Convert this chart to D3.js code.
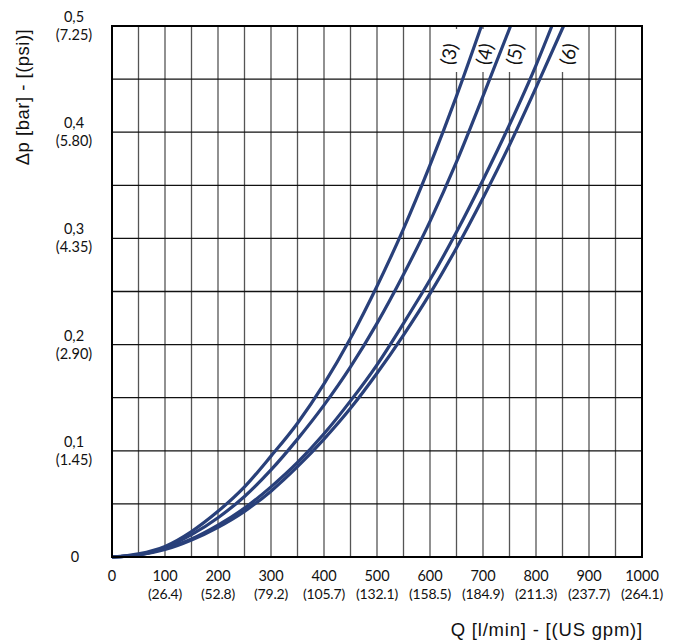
<!DOCTYPE html>
<html><head><meta charset="utf-8">
<script src="https://cdn.jsdelivr.net/npm/d3@7"></script>
<style>body{margin:0;background:#fff}svg{display:block}</style>
</head><body>
<svg id="c" width="675" height="644"></svg>
<script>
const xTicks = [0,100,200,300,400,500,600,700,800,900,1000];
const xTicksUS = ["","(26.4)","(52.8)","(79.2)","(105.7)","(132.1)","(158.5)","(184.9)","(211.3)","(237.7)","(264.1)"];
const yTicks = [0,0.1,0.2,0.3,0.4,0.5];
const yTicksBar = ["0","0,1","0,2","0,3","0,4","0,5"];
const yTicksPsi = ["","(1.45)","(2.90)","(4.35)","(5.80)","(7.25)"];
const curveNames = ["(3)","(4)","(5)","(6)"];
const curve3 = [[0,0],[50,0.003],[100,0.01],[150,0.024],[200,0.043],[250,0.066],[300,0.095],[350,0.126],[400,0.163],[450,0.206],[500,0.255],[550,0.309],[600,0.369],[650,0.434],[697,0.5]];
const curve4 = [[0,0],[50,0.002],[100,0.009],[150,0.021],[200,0.037],[250,0.057],[300,0.082],[350,0.111],[400,0.143],[450,0.179],[500,0.22],[550,0.266],[600,0.316],[650,0.372],[700,0.434],[752,0.5]];
const curve5 = [[0,0],[50,0.002],[100,0.008],[150,0.017],[200,0.03],[250,0.046],[300,0.066],[350,0.089],[400,0.116],[450,0.147],[500,0.181],[550,0.22],[600,0.261],[650,0.306],[700,0.355],[750,0.407],[800,0.463],[830,0.5]];
const curve6 = [[0,0],[50,0.002],[100,0.007],[150,0.016],[200,0.028],[250,0.043],[300,0.062],[350,0.085],[400,0.111],[450,0.14],[500,0.173],[550,0.209],[600,0.248],[650,0.291],[700,0.338],[750,0.388],[800,0.442],[852,0.5]];
const curves = [curve3, curve4, curve5, curve6];
const labelQ = [636, 703, 760, 861];

const svg = d3.select("#c");
const L=112, R=642, T=26, B=557;
const x = d3.scaleLinear().domain([0,1000]).range([L,R]);
const y = d3.scaleLinear().domain([0,0.5]).range([B,T]);

// grid
const g = svg.append("g");
g.selectAll("line.v").data(d3.range(50,1000,50)).join("line")
  .attr("x1",d=>x(d)).attr("x2",d=>x(d)).attr("y1",T).attr("y2",B)
  .attr("stroke","#555").attr("stroke-width",1.3);
g.selectAll("line.h").data(d3.range(1,10).map(i=>i*0.05)).join("line")
  .attr("x1",L).attr("x2",R).attr("y1",d=>y(d)).attr("y2",d=>y(d))
  .attr("stroke","#111").attr("stroke-width",1.3);

// curve labels with white backgrounds
const lab = svg.append("g");
curveNames.forEach((n,i)=>{
  const cx = x(labelQ[i]), cy = 54;
  lab.append("rect").attr("x",cx-9).attr("y",29).attr("width",18).attr("height",43).attr("fill","#fff");
  lab.append("text").attr("transform",`translate(${cx},${cy}) rotate(-78)`)
    .attr("text-anchor","middle").attr("dy","0.36em")
    .attr("font-family","Lato, sans-serif").attr("font-size",19).attr("fill","#111").text(n);
});

// curves
const line = d3.line().x(d=>x(d[0])).y(d=>y(d[1])).curve(d3.curveMonotoneX);
svg.append("g").selectAll("path").data(curves).join("path")
  .attr("d",line).attr("fill","none").attr("stroke","#29407a").attr("stroke-width",3.2);

// border
svg.append("rect").attr("x",L).attr("y",T).attr("width",R-L).attr("height",B-T)
  .attr("fill","none").attr("stroke","#000").attr("stroke-width",2);

// x tick labels
const xt = svg.append("g").attr("font-family","Lato, sans-serif").attr("fill","#111").attr("text-anchor","middle");
xTicks.forEach((t,i)=>{
  xt.append("text").attr("x",x(t)).attr("y",581).attr("font-size",14.5).text(t);
  if (xTicksUS[i]) xt.append("text").attr("x",x(t)).attr("y",599).attr("font-size",14).attr("letter-spacing",-0.2).text(xTicksUS[i]);
});
// y tick labels
const yt = svg.append("g").attr("font-family","Lato, sans-serif").attr("fill","#111").attr("text-anchor","middle").attr("font-size",14.5);
yTicks.forEach((t,i)=>{
  if (yTicksPsi[i]) {
    yt.append("text").attr("x",74).attr("y",y(t)-4).text(yTicksBar[i]);
    yt.append("text").attr("x",74).attr("y",y(t)+14).text(yTicksPsi[i]);
  } else {
    yt.append("text").attr("x",75).attr("y",y(t)+5).text(yTicksBar[i]);
  }
});
// axis titles
svg.append("text").attr("x",643).attr("y",636).attr("text-anchor","end")
  .attr("font-family","Liberation Sans, Arial, sans-serif").attr("font-size",18.5).attr("letter-spacing",0.8).attr("fill","#111")
  .text("Q [l/min] - [(US gpm)]");
svg.append("text").attr("transform","translate(29,97) rotate(-90)").attr("text-anchor","middle")
  .attr("font-family","Liberation Sans, Arial, sans-serif").attr("font-size",18.5).attr("letter-spacing",0.5).attr("fill","#111")
  .text("Δp [bar] - [(psi)]");
</script>
</body></html>
